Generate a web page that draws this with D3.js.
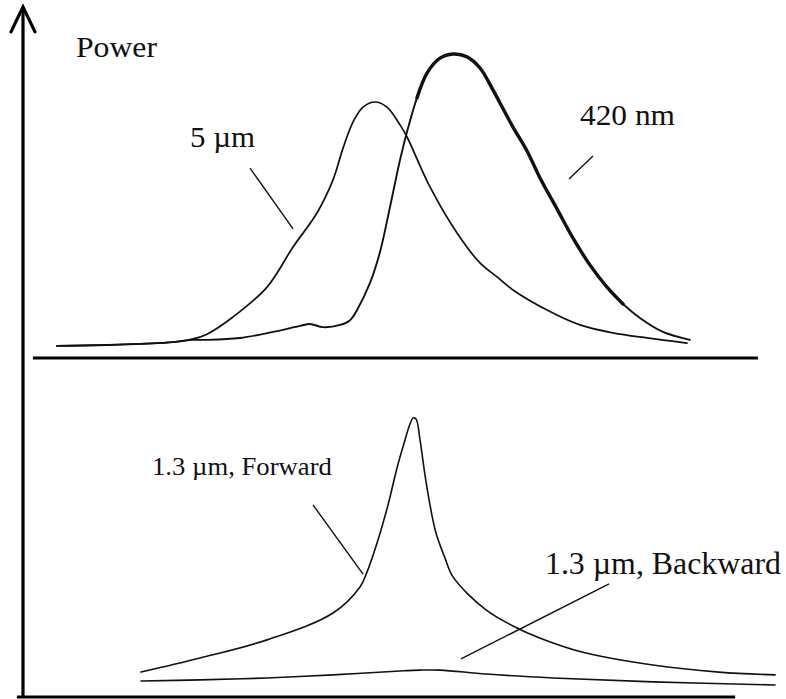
<!DOCTYPE html>
<html>
<head>
<meta charset="utf-8">
<script src="https://cdn.jsdelivr.net/npm/d3@7"></script>
<style>
  html, body { margin: 0; padding: 0; background: #fff; }
  svg { display: block; }
  text { font-family: "Liberation Serif", "Times New Roman", serif; fill: #111; }
</style>
</head>
<body>
<svg id="chart" width="786" height="699"></svg>
<script>
// ---- data (position in a.u., normalised power) ----
// Top panel: 5 µm
const pos5um = [4.47, 11.05, 19.74, 22.37, 24.21, 27.63, 32.11, 35.53, 38.68, 40.79, 42.11, 43.42, 44.74, 46.32, 47.89, 49.61, 50.53, 53.55, 57.11, 60.13, 62.37, 64.47, 68.95, 73.29, 77.63, 82.11, 87.37];
const pow5um = [0.038, 0.041, 0.050, 0.060, 0.075, 0.129, 0.223, 0.349, 0.456, 0.560, 0.660, 0.742, 0.789, 0.805, 0.789, 0.733, 0.695, 0.538, 0.393, 0.299, 0.255, 0.214, 0.151, 0.104, 0.079, 0.063, 0.047];
// Top panel: 420 nm
const pos420 = [4.47, 11.05, 19.74, 22.37, 24.21, 28.55, 32.89, 36.45, 37.76, 39.47, 41.71, 43.03, 43.95, 45.66, 46.97, 48.29, 49.61, 50.66, 51.84, 53.16, 54.87, 56.58, 58.42, 60.13, 61.84, 62.76, 64.47, 66.32, 68.03, 70.26, 72.37, 74.61, 76.84, 78.95, 81.18, 84.21, 87.76];
const pow420 = [0.038, 0.041, 0.050, 0.057, 0.057, 0.063, 0.082, 0.101, 0.107, 0.097, 0.104, 0.119, 0.151, 0.236, 0.333, 0.475, 0.623, 0.723, 0.818, 0.896, 0.943, 0.956, 0.947, 0.912, 0.843, 0.802, 0.726, 0.651, 0.566, 0.469, 0.377, 0.292, 0.223, 0.170, 0.126, 0.082, 0.057];
// Bottom panel: 1.3 µm forward
const posFwd = [15.53, 23.29, 32.11, 40.79, 44.34, 45.26, 46.71, 48.03, 49.21, 50.26, 50.92, 51.32, 51.71, 52.24, 52.89, 53.55, 54.34, 55.53, 56.58, 60.92, 65.26, 69.74, 74.08, 82.89, 91.58, 98.95];
const powFwd = [0.089, 0.139, 0.204, 0.300, 0.393, 0.446, 0.561, 0.686, 0.818, 0.918, 0.975, 0.996, 0.993, 0.918, 0.793, 0.686, 0.586, 0.496, 0.429, 0.311, 0.243, 0.193, 0.157, 0.114, 0.089, 0.079];
// Bottom panel: 1.3 µm backward
const posBwd = [15.53, 23.29, 32.11, 40.79, 49.61, 52.24, 54.87, 60.92, 69.74, 82.89, 98.95];
const powBwd = [0.057, 0.061, 0.068, 0.079, 0.093, 0.096, 0.096, 0.082, 0.068, 0.054, 0.043];

// Axis extents (data units)
const topBaseExtent = [1.3, 96.7];
const bottomBaseExtent = [-0.8, 93.7];
const axisTopValue = 1.104;   // in top-panel power units

// Labels
const labelText  = ["Power", "5 \u00b5m", "420 nm", "1.3 \u00b5m, Forward", "1.3 \u00b5m, Backward"];
const labelX     = [6.97, 21.97, 73.29, 16.97, 68.68];
const labelY     = [0.947, 0.664, 0.733, 0.793, 0.439];
const labelPanel = ["top", "top", "top", "bottom", "bottom"];
// Leader lines
const leaderX1 = [29.87, 75.0, 38.16, 57.63];
const leaderY1 = [0.597, 0.635, 0.686, 0.136];
const leaderX2 = [35.53, 71.84, 44.74, 77.11];
const leaderY2 = [0.406, 0.563, 0.439, 0.404];
const leaderPanel = ["top", "top", "bottom", "bottom"];

// ---- styles ----
const labelSize  = [29, 29, 30, 25, 31];
const labelWidth = [81, 65, 95, 180, 236];
const noisyRange420 = [51, 80];   // thicker, noisier stretch of the 420 nm trace

// ---- scales ----
const svg = d3.select("#chart");
const x = d3.scaleLinear().domain([0, 100]).range([23, 783]);
const yTop = d3.scaleLinear().domain([0, 1]).range([358, 40]);
const yBot = d3.scaleLinear().domain([0, 1]).range([697, 417]);
const yOf = p => p === "top" ? yTop : yBot;

// ---- axes ----
const axisG = svg.append("g").attr("stroke", "#000").attr("fill", "none");
axisG.append("line")
  .attr("x1", x(0)).attr("x2", x(0))
  .attr("y1", yBot(0) + 1).attr("y2", yTop(axisTopValue))
  .attr("stroke-width", 3.2);
axisG.append("path")
  .attr("d", `M${x(0) - 12},${yTop(axisTopValue) + 25} L${x(0)},${yTop(axisTopValue)} L${x(0) + 12},${yTop(axisTopValue) + 25}`)
  .attr("stroke-width", 3.2).attr("stroke-linecap", "round").attr("stroke-linejoin", "miter");
axisG.append("line")
  .attr("x1", x(topBaseExtent[0])).attr("x2", x(topBaseExtent[1]))
  .attr("y1", yTop(0)).attr("y2", yTop(0))
  .attr("stroke-width", 3.2);
axisG.append("line")
  .attr("x1", x(bottomBaseExtent[0])).attr("x2", x(bottomBaseExtent[1]))
  .attr("y1", yBot(0)).attr("y2", yBot(0))
  .attr("stroke-width", 3.2);

// ---- curves ----
function drawCurve(xs, ys, yScale, width, range) {
  let pts = xs.map((v, i) => [v, ys[i]]);
  if (range) pts = pts.filter(d => d[0] >= range[0] && d[0] <= range[1]);
  const line = d3.line()
    .x(d => x(d[0])).y(d => yScale(d[1]))
    .curve(d3.curveCatmullRom.alpha(0.5));
  svg.append("path")
    .datum(pts)
    .attr("d", line)
    .attr("fill", "none")
    .attr("stroke", "#111")
    .attr("stroke-width", width)
    .attr("stroke-linejoin", "round")
    .attr("stroke-linecap", "round");
}
drawCurve(pos5um, pow5um, yTop, 1.7);
drawCurve(pos420, pow420, yTop, 1.9);
drawCurve(pos420, pow420, yTop, 3.4, noisyRange420);
drawCurve(posFwd, powFwd, yBot, 1.6);
drawCurve(posBwd, powBwd, yBot, 1.6);

// ---- leader lines ----
leaderX1.forEach((v, i) => {
  const ys = yOf(leaderPanel[i]);
  svg.append("line")
    .attr("x1", x(v)).attr("y1", ys(leaderY1[i]))
    .attr("x2", x(leaderX2[i])).attr("y2", ys(leaderY2[i]))
    .attr("stroke", "#111").attr("stroke-width", 1.4);
});

// ---- labels ----
labelText.forEach((t, i) => {
  const ys = yOf(labelPanel[i]);
  svg.append("text")
    .attr("x", x(labelX[i])).attr("y", ys(labelY[i]))
    .attr("font-size", labelSize[i])
    .attr("textLength", labelWidth[i])
    .attr("lengthAdjust", "spacingAndGlyphs")
    .text(t);
});
</script>
</body>
</html>
